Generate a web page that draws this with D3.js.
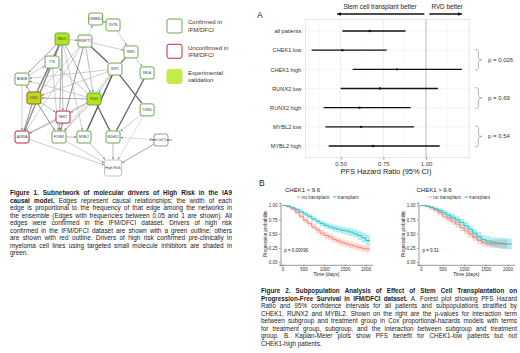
<!DOCTYPE html>
<html>
<head>
<meta charset="utf-8">
<script src="https://cdn.jsdelivr.net/npm/d3@7"></script>
<style>
  body { margin: 0; background: #fff; }
</style>
</head>
<body>
<div id="chart"></div>
<script>
// ---------- figure 1: network ----------
const nodeNames = ['CREB3L2', 'DSTN', 'MELK', 'PKMYT1', 'RNF1', 'TTK', 'E2F1', 'RELA', 'BUB1B', 'CDK1',
  'PLK4', 'NEK2', 'TONSL', 'AURKA', 'FOXM1', 'MYBL2', 'WDHD1', 'Stem Cell Trans.', 'High Risk'];
// layout units (0-10) from the graph layout
const nodeCol = [5.3, 6.55, 2.88, 4.53, 7.84, 2.16, 6.69, 9.0, 0, 0.86, 5.18, 2.95, 9.0, 0, 2.66, 4.46, 6.55, 10, 6.55];
const nodeRow = [0, 0.4, 1.34, 1.48, 2.21, 2.89, 3.36, 3.62, 4.03, 5.3, 5.37, 6.58, 6.1, 7.92, 7.92, 7.92, 7.92, 8.12, 10];
const nodeGroup = ['confirmed', 'confirmed', 'validated', 'confirmed', 'confirmed', 'confirmed', 'confirmed',
  'confirmed', 'confirmed', 'validatedOlive', 'validated', 'unconfirmed', 'confirmed', 'unconfirmed',
  'confirmed', 'confirmed', 'confirmed', 'other', 'outcome'];

// [from, to, edge frequency]
const edges = [
  ['MELK', 'CDK1', 0.9], ['MELK', 'AURKA', 0.8], ['MELK', 'PLK4', 0.5], ['MELK', 'TTK', 0.4],
  ['MELK', 'BUB1B', 0.5], ['MELK', 'NEK2', 0.4], ['MELK', 'FOXM1', 0.5], ['MELK', 'PKMYT1', 0.3],
  ['MELK', 'MYBL2', 0.3], ['PKMYT1', 'E2F1', 0.9], ['PKMYT1', 'PLK4', 0.4], ['PKMYT1', 'FOXM1', 0.6],
  ['PKMYT1', 'CDK1', 0.3], ['PKMYT1', 'RNF1', 0.3], ['PKMYT1', 'CREB3L2', 0.2], ['PKMYT1', 'AURKA', 0.3],
  ['CREB3L2', 'DSTN', 0.3], ['DSTN', 'RNF1', 0.3], ['RNF1', 'E2F1', 0.8], ['RNF1', 'RELA', 0.3],
  ['E2F1', 'MYBL2', 1.0], ['E2F1', 'TONSL', 0.9], ['E2F1', 'PLK4', 0.4], ['E2F1', 'CDK1', 0.3],
  ['E2F1', 'BUB1B', 0.3], ['E2F1', 'FOXM1', 0.3], ['RELA', 'WDHD1', 0.9], ['PLK4', 'WDHD1', 0.9],
  ['PLK4', 'CDK1', 0.5], ['PLK4', 'AURKA', 0.4], ['PLK4', 'NEK2', 0.3], ['PLK4', 'FOXM1', 0.4],
  ['PLK4', 'TTK', 0.3], ['PLK4', 'BUB1B', 0.3], ['CDK1', 'AURKA', 0.6], ['CDK1', 'FOXM1', 0.6],
  ['CDK1', 'NEK2', 0.4], ['CDK1', 'TTK', 0.3], ['CDK1', 'BUB1B', 0.5], ['BUB1B', 'AURKA', 0.3],
  ['BUB1B', 'TTK', 0.3], ['NEK2', 'AURKA', 0.4], ['NEK2', 'FOXM1', 0.4], ['TTK', 'FOXM1', 0.3],
  ['TTK', 'AURKA', 0.3], ['FOXM1', 'MYBL2', 0.4], ['FOXM1', 'High Risk', 0.3], ['AURKA', 'High Risk', 0.3],
  ['MYBL2', 'High Risk', 0.4], ['WDHD1', 'High Risk', 0.4], ['Stem Cell Trans.', 'High Risk', 0.5],
  ['TONSL', 'WDHD1', 0.3], ['Stem Cell Trans.', 'WDHD1', 0.2], ['TONSL', 'High Risk', 0.2],
];

const legendLabels = [['Confirmed in', 'IFM/DFCI'], ['Unconfirmed in', 'IFM/DFCI'], ['Experimental', 'validation']];
const legendGroups = ['confirmed', 'unconfirmed', 'validatedFlat'];

// ---------- figure 2A: forest plot ----------
const subgroups = ['all patients', 'CHEK1 low', 'CHEK1 high', 'RUNX2 low', 'RUNX2 high', 'MYBL2 low', 'MYBL2 high'];
const hrEstimate = [0.67, 0.51, 0.83, 0.73, 0.61, 0.62, 0.69];
const hrLower = [0.51, 0.33, 0.57, 0.50, 0.40, 0.41, 0.43];
const hrUpper = [0.88, 0.77, 1.21, 1.07, 0.91, 0.93, 1.08];
const hrTicks = [0.5, 0.75, 1.0];
const hrMinor = [0.375, 0.625, 0.875, 1.125];
const interactions = [
  ['CHEK1 low', 'CHEK1 high', 'p = 0.026'],
  ['RUNX2 low', 'RUNX2 high', 'p = 0.69'],
  ['MYBL2 low', 'MYBL2 high', 'p = 0.54'],
];

// ---------- figure 2B: Kaplan-Meier ----------
const kmTimes = [0, 100, 200, 300, 400, 500, 600, 700, 800, 900, 1000, 1100, 1200, 1300, 1400, 1500,
  1600, 1700, 1800, 1900, 2000, 2100];
const lowNoTx = [1.00, 0.98, 0.94, 0.88, 0.81, 0.74, 0.68, 0.62, 0.57, 0.51, 0.47, 0.44, 0.40, 0.37, 0.34, 0.32, 0.30, 0.28, 0.26, 0.24, 0.23, 0.23];
const lowNoTxLo = [1.00, 0.96, 0.91, 0.84, 0.77, 0.69, 0.63, 0.57, 0.51, 0.46, 0.41, 0.38, 0.34, 0.31, 0.28, 0.26, 0.24, 0.22, 0.20, 0.18, 0.17, 0.17];
const lowNoTxHi = [1.00, 1.00, 0.97, 0.92, 0.86, 0.79, 0.73, 0.68, 0.62, 0.57, 0.53, 0.50, 0.46, 0.43, 0.40, 0.38, 0.36, 0.34, 0.32, 0.30, 0.29, 0.29];
const lowTx = [1.00, 0.99, 0.96, 0.93, 0.89, 0.85, 0.81, 0.76, 0.72, 0.68, 0.65, 0.62, 0.60, 0.58, 0.56, 0.55, 0.53, 0.50, 0.47, 0.43, 0.38, 0.38];
const lowTxLo = [1.00, 0.98, 0.94, 0.90, 0.86, 0.81, 0.77, 0.72, 0.67, 0.63, 0.60, 0.57, 0.54, 0.52, 0.50, 0.48, 0.46, 0.43, 0.39, 0.34, 0.29, 0.29];
const lowTxHi = [1.00, 1.00, 0.98, 0.96, 0.93, 0.89, 0.85, 0.81, 0.77, 0.73, 0.70, 0.68, 0.66, 0.64, 0.62, 0.61, 0.60, 0.58, 0.55, 0.52, 0.48, 0.48];
const highNoTx = [1.00, 0.99, 0.96, 0.92, 0.87, 0.81, 0.77, 0.72, 0.67, 0.61, 0.55, 0.49, 0.43, 0.38, 0.34, 0.32, 0.32, 0.32, 0.32, 0.32, 0.32];
const highNoTxLo = [1.00, 0.97, 0.93, 0.88, 0.83, 0.76, 0.71, 0.66, 0.61, 0.55, 0.49, 0.43, 0.37, 0.32, 0.28, 0.26, 0.25, 0.25, 0.24, 0.24, 0.24];
const highNoTxHi = [1.00, 1.00, 0.99, 0.96, 0.92, 0.86, 0.82, 0.78, 0.73, 0.67, 0.61, 0.55, 0.49, 0.44, 0.40, 0.39, 0.39, 0.40, 0.40, 0.40, 0.40];
const highTx = [1.00, 0.99, 0.97, 0.94, 0.91, 0.87, 0.83, 0.79, 0.75, 0.70, 0.64, 0.58, 0.51, 0.45, 0.40, 0.37, 0.35, 0.34, 0.33, 0.32, 0.32, 0.32];
const highTxLo = [1.00, 0.98, 0.95, 0.91, 0.87, 0.83, 0.78, 0.74, 0.69, 0.64, 0.58, 0.51, 0.44, 0.38, 0.33, 0.29, 0.27, 0.25, 0.24, 0.23, 0.22, 0.22];
const highTxHi = [1.00, 1.00, 0.99, 0.97, 0.95, 0.92, 0.88, 0.85, 0.81, 0.76, 0.71, 0.65, 0.58, 0.53, 0.48, 0.46, 0.44, 0.43, 0.43, 0.42, 0.42, 0.42];
const kmYTicks = [0, 0.25, 0.5, 0.75, 1];
const kmXTicks = [0, 500, 1000, 1500, 2000];

// ---------- captions ----------
const caption1 = [
  [['Figure 1. Subnetwork of molecular drivers of High Risk in the IA9', true]],
  [['causal model.', true], ['Edges represent causal relationships; the width of each']],
  [['edge is proportional to the frequency of that edge among the networks in']],
  [['the ensemble (Edges with frequencies between 0.05 and 1 are shown). All']],
  [['edges were confirmed in the IFM/DFCI dataset. Drivers of high risk']],
  [['confirmed in the IFM/DFCI dataset are shown with a green outline; others']],
  [['are shown with red outline. Drivers of high risk confirmed pre-clinically in']],
  [['myeloma cell lines using targeted small molecule inhibitors are shaded in']],
  [['green.']],
];
const caption2 = [
  [['Figure 2. Subpopulation Analysis of Effect of Stem Cell Transplantation on', true]],
  [['Progression-Free Survival in IFM/DFCI dataset.', true], ['A. Forest plot showing PFS Hazard']],
  [['Ratio and 95% confidence intervals for all patients and subpopulations stratified by']],
  [['CHEK1, RUNX2 and MYBL2. Shown on the right are the p-values for interaction term']],
  [['between subgroup and treatment group in Cox proportional-hazards models with terms']],
  [['for treatment group, subgroup, and the interaction between subgroup and treatment']],
  [['group. B. Kaplan-Meier plots show PFS benefit for CHEK1-low patients but not']],
  [['CHEK1-high patients.']],
];

const RED = '#F8766D';
const TEAL = '#00BFC4';

const svg = d3.select('#chart').append('svg')
  .attr('width', 520).attr('height', 353)
  .style('font-family', "'Liberation Sans', Arial, sans-serif");

const defs = svg.append('defs');
const addMarker = (id, size, color) => defs.append('marker')
  .attr('id', id)
  .attr('viewBox', '0 0 10 10')
  .attr('refX', 9).attr('refY', 5)
  .attr('markerUnits', 'userSpaceOnUse')
  .attr('markerWidth', size).attr('markerHeight', size)
  .attr('orient', 'auto')
  .append('path').attr('d', 'M0,1L10,5L0,9Z').attr('fill', color);
addMarker('net-arrow', 2.6, '#8a8a8a');
addMarker('hr-arrow', 4.5, '#111');

// justified paragraph: words are measured and spread to fill the width,
// last line stays ragged
const drawParagraph = ({sel, lines, x, y, width, lineHeight, size}) => {
  lines.forEach((segments, i) => {
    const words = [];
    segments.forEach(([str, bold]) => str.split(' ').forEach((w) => words.push({w, bold})));
    const texts = words.map((d) => sel.append('text')
      .attr('y', y + i * lineHeight)
      .attr('font-size', size)
      .attr('font-weight', d.bold ? 'bold' : 'normal')
      .attr('fill', '#1a1a1a')
      .text(d.w));
    const widths = texts.map((t) => t.node().getComputedTextLength());
    const total = d3.sum(widths);
    const last = i === lines.length - 1;
    const gap = last || words.length < 2 ? size * 0.28 : Math.max(0.9, (width - total) / (words.length - 1));
    let cx = x;
    texts.forEach((t, j) => {
      t.attr('x', cx);
      cx += widths[j] + gap;
    });
  });
};

// ================= network =================
const nodeStyle = {
  confirmed: {fill: '#fff', stroke: '#6aa84f'},
  unconfirmed: {fill: '#fff', stroke: '#b8283f'},
  validated: {fill: '#b3e51f', stroke: '#6aa84f'},
  validatedFlat: {fill: '#c2ec4a', stroke: '#c2ec4a'},
  validatedOlive: {fill: '#c4d424', stroke: '#8a6d10'},
  other: {fill: '#fff', stroke: '#8fa08a'},
  outcome: {fill: '#fff', stroke: '#c4c4c4'},
};

const netX = d3.scaleLinear().domain([0, 10]).range([22, 161]);
const netY = d3.scaleLinear().domain([0, 10]).range([19, 168]);
const nodes = nodeNames.map((name, i) => ({name, col: nodeCol[i], row: nodeRow[i], group: nodeGroup[i]}));
const byName = new Map(nodes.map((d) => [d.name, d]));
const boxSize = (d) => (d.group === 'outcome' ? [17, 16] : [14, 12]);

const edgeWidth = d3.scaleLinear().domain([0, 1]).range([0.3, 1.4]);
const edgeColor = d3.scaleLinear().domain([0, 1]).range(['#dadada', '#555']);

// clip line end to the target box
const edgeEnd = (a, b) => {
  const x1 = netX(a.col), y1 = netY(a.row), x2 = netX(b.col), y2 = netY(b.row);
  const [w, h] = boxSize(b);
  const dx = x2 - x1, dy = y2 - y1;
  const t = Math.min(dx ? (w / 2 + 0.5) / Math.abs(dx) : Infinity, dy ? (h / 2 + 0.5) / Math.abs(dy) : Infinity);
  return [x2 - t * dx, y2 - t * dy];
};

const netG = svg.append('g').attr('class', 'network');
netG.selectAll('line.edge')
  .data(edges)
  .join('line')
  .attr('class', 'edge')
  .attr('x1', (e) => netX(byName.get(e[0]).col))
  .attr('y1', (e) => netY(byName.get(e[0]).row))
  .attr('x2', (e) => edgeEnd(byName.get(e[0]), byName.get(e[1]))[0])
  .attr('y2', (e) => edgeEnd(byName.get(e[0]), byName.get(e[1]))[1])
  .attr('stroke', (e) => edgeColor(e[2]))
  .attr('stroke-width', (e) => edgeWidth(e[2]))
  .attr('marker-end', 'url(#net-arrow)');

const nodeG = netG.selectAll('g.node')
  .data(nodes)
  .join('g')
  .attr('class', 'node')
  .attr('transform', (d) => `translate(${netX(d.col)},${netY(d.row)})`);

nodeG.append('rect')
  .attr('x', (d) => -boxSize(d)[0] / 2)
  .attr('y', (d) => -boxSize(d)[1] / 2)
  .attr('width', (d) => boxSize(d)[0])
  .attr('height', (d) => boxSize(d)[1])
  .attr('rx', 2)
  .attr('fill', (d) => nodeStyle[d.group].fill)
  .attr('stroke', (d) => nodeStyle[d.group].stroke)
  .attr('stroke-width', 1);

nodeG.append('text')
  .attr('text-anchor', 'middle')
  .attr('dy', '0.35em')
  .attr('font-size', (d) => (d.group === 'outcome' ? 3.6 : 3.1))
  .attr('fill', '#333')
  .text((d) => d.name);

// legend
const legendG = svg.append('g').attr('class', 'legend');
const legendY = d3.scalePoint().domain(legendGroups).range([26, 76.5]);
legendGroups.forEach((grp, i) => {
  const cy = legendY(grp);
  legendG.append('rect')
    .attr('x', 167).attr('y', cy - 7)
    .attr('width', 15).attr('height', 14).attr('rx', 2)
    .attr('fill', nodeStyle[grp].fill)
    .attr('stroke', nodeStyle[grp].stroke)
    .attr('stroke-width', 1);
  legendLabels[i].forEach((line, j) => {
    legendG.append('text')
      .attr('x', 188).attr('y', cy - 1.6 + j * 7.5)
      .attr('font-size', 6).attr('fill', '#333')
      .text(line);
  });
});

drawParagraph({sel: svg.append('g'), lines: caption1, x: 10, y: 195.3, width: 222, lineHeight: 7.5, size: 6.4});

// ================= forest plot =================
const fx = d3.scaleLinear().domain([0.295, 1.252]).range([305.7, 469]);
const fy = d3.scalePoint().domain(subgroups).range([19.5, 157.5]).padding(0.6);
const forest = svg.append('g').attr('class', 'forest');

forest.selectAll('line.minor').data(hrMinor).join('line')
  .attr('x1', fx).attr('x2', fx).attr('y1', 19.5).attr('y2', 157.5)
  .attr('stroke', '#f2f2f2').attr('stroke-width', 0.5);
forest.selectAll('line.major').data(hrTicks).join('line')
  .attr('x1', fx).attr('x2', fx).attr('y1', 19.5).attr('y2', 157.5)
  .attr('stroke', '#e8e8e8').attr('stroke-width', 0.7);
forest.selectAll('line.hgrid').data(subgroups).join('line')
  .attr('x1', 305.7).attr('x2', 469).attr('y1', fy).attr('y2', fy)
  .attr('stroke', '#ececec').attr('stroke-width', 0.6);
forest.append('rect')
  .attr('x', 305.7).attr('y', 19.5).attr('width', 469 - 305.7).attr('height', 138)
  .attr('fill', 'none').attr('stroke', '#dcdcdc').attr('stroke-width', 0.7);
forest.append('line')
  .attr('x1', fx(1)).attr('x2', fx(1)).attr('y1', 19.5).attr('y2', 157.5)
  .attr('stroke', '#a6a6a6').attr('stroke-width', 0.7);

forest.selectAll('line.ci').data(subgroups).join('line')
  .attr('x1', (d, i) => fx(hrLower[i]))
  .attr('x2', (d, i) => fx(hrUpper[i]))
  .attr('y1', fy).attr('y2', fy)
  .attr('stroke', '#111').attr('stroke-width', 1.3);
forest.selectAll('circle.est').data(subgroups).join('circle')
  .attr('cx', (d, i) => fx(hrEstimate[i]))
  .attr('cy', fy).attr('r', 1.2).attr('fill', '#111');

// axes
const xAxisF = forest.append('g')
  .attr('transform', 'translate(0,157.5)')
  .call(d3.axisBottom(fx).tickValues(hrTicks).tickFormat(d3.format('.2f')).tickSize(2).tickPadding(2));
xAxisF.select('.domain').remove();
xAxisF.selectAll('.tick line').attr('stroke', '#888');
xAxisF.selectAll('text').attr('font-size', 6).attr('fill', '#444').attr('font-family', null);

const yAxisF = forest.append('g')
  .attr('transform', 'translate(305.7,0)')
  .call(d3.axisLeft(fy).tickSize(0).tickPadding(4.5));
yAxisF.select('.domain').remove();
yAxisF.selectAll('text').attr('font-size', 5.6).attr('fill', '#333').attr('font-family', null);

forest.append('text')
  .attr('x', 386).attr('y', 174)
  .attr('text-anchor', 'middle').attr('font-size', 7.4).attr('fill', '#222')
  .text('PFS Hazard Ratio (95% CI)');

// header arrows
const headerArrows = [[0.99, 0.48, 'Stem cell transplant better', 380], [1.02, 1.21, 'RVD better', 447]];
headerArrows.forEach(([a, b, label, tx]) => {
  forest.append('line')
    .attr('x1', fx(a)).attr('x2', fx(b)).attr('y1', 14).attr('y2', 14)
    .attr('stroke', '#111').attr('stroke-width', 1.3)
    .attr('marker-end', 'url(#hr-arrow)');
  forest.append('text')
    .attr('x', tx).attr('y', 8.5)
    .attr('text-anchor', 'middle').attr('font-size', 6.3).attr('fill', '#222')
    .text(label);
});

// interaction braces
const bracePath = (x, y0, y1, w) => {
  const ym = (y0 + y1) / 2, xm = x + w * 0.5;
  return `M${x},${y0} Q${xm},${y0} ${xm},${y0 + 2.5} L${xm},${ym - 2} Q${xm},${ym} ${x + w},${ym}`
    + ` Q${xm},${ym} ${xm},${ym + 2} L${xm},${y1 - 2.5} Q${xm},${y1} ${x},${y1}`;
};
interactions.forEach(([a, b, label]) => {
  const y0 = fy(a) - 1, y1 = fy(b) + 1;
  forest.append('path')
    .attr('d', bracePath(475, y0, y1, 7))
    .attr('fill', 'none').attr('stroke', '#9a9a9a').attr('stroke-width', 0.7);
  forest.append('text')
    .attr('x', 488).attr('y', (y0 + y1) / 2 + 2)
    .attr('font-size', 6).attr('fill', '#333')
    .text(label);
});

svg.append('text').attr('x', 257).attr('y', 18.3).attr('font-size', 8.5).attr('fill', '#222').text('A');
svg.append('text').attr('x', 259).attr('y', 186).attr('font-size', 8.5).attr('fill', '#222').text('B');

// ================= Kaplan-Meier =================
const drawKM = ({range, titleX, title, pText, curves}) => {
  const x = d3.scaleLinear().domain([-50, 2150]).range(range);
  const y = d3.scaleLinear().domain([-0.05, 1.05]).range([264.8, 202.7]);
  const g = svg.append('g').attr('class', 'km');

  curves.forEach(({surv, lo, hi, color}) => {
    const pts = surv.map((s, i) => ({t: kmTimes[i], s, lo: lo[i], hi: hi[i]}));
    g.append('path')
      .datum(pts)
      .attr('d', d3.area().curve(d3.curveStepAfter).x((d) => x(d.t)).y0((d) => y(d.lo)).y1((d) => y(d.hi)))
      .attr('fill', color).attr('fill-opacity', 0.28);
  });
  curves.forEach(({surv, color}) => {
    const pts = surv.map((s, i) => ({t: kmTimes[i], s}));
    g.append('path')
      .datum(pts)
      .attr('d', d3.line().curve(d3.curveStepAfter).x((d) => x(d.t)).y((d) => y(d.s)))
      .attr('fill', 'none').attr('stroke', color).attr('stroke-width', 0.8);
  });

  const xAx = g.append('g').attr('transform', 'translate(0,264.8)')
    .call(d3.axisBottom(x).tickValues(kmXTicks).tickFormat(d3.format('d')).tickSize(1.5).tickPadding(1.5));
  const yAx = g.append('g').attr('transform', `translate(${range[0]},0)`)
    .call(d3.axisLeft(y).tickValues(kmYTicks).tickFormat(d3.format('.2f')).tickSize(1.5).tickPadding(1.5));
  [xAx, yAx].forEach((ax) => {
    ax.select('.domain').attr('stroke', '#333').attr('stroke-width', 0.5);
    ax.selectAll('.tick line').attr('stroke', '#333').attr('stroke-width', 0.5);
    ax.selectAll('text').attr('font-size', 4.5).attr('fill', '#333').attr('font-family', null);
  });

  const cx = (range[0] + range[1]) / 2;
  g.append('text').attr('x', cx).attr('y', 275.5)
    .attr('text-anchor', 'middle').attr('font-size', 5).attr('fill', '#222').text('Time (days)');
  g.append('text')
    .attr('transform', `translate(${range[0] - 14},${y(0.5)}) rotate(-90)`)
    .attr('text-anchor', 'middle').attr('font-size', 4.5).attr('fill', '#222')
    .text('Progression probability');
  g.append('text').attr('x', titleX).attr('y', 192.2)
    .attr('font-size', 6).attr('fill', '#222').text(title);
  g.append('text').attr('x', x(40)).attr('y', y(0.17))
    .attr('font-size', 4.5).attr('fill', '#222').text(pText);

  // legend
  const lg = g.append('g').attr('transform', `translate(${titleX + 12},198.5)`);
  const items = [['no transplant', RED, 0], ['transplant', TEAL, 36]];
  items.forEach(([label, color, dx]) => {
    lg.append('line').attr('x1', dx).attr('x2', dx + 3.5).attr('y1', -1.5).attr('y2', -1.5)
      .attr('stroke', color).attr('stroke-width', 0.9);
    lg.append('text').attr('x', dx + 4.5).attr('y', 0)
      .attr('font-size', 4.8).attr('fill', '#333').text(label);
  });
};

drawKM({
  range: [280.5, 372], titleX: 285, title: 'CHEK1 < 9.6', pText: 'p = 0.00096',
  curves: [
    {surv: lowNoTx, lo: lowNoTxLo, hi: lowNoTxHi, color: RED},
    {surv: lowTx, lo: lowTxLo, hi: lowTxHi, color: TEAL},
  ],
});
drawKM({
  range: [418.5, 514], titleX: 416.5, title: 'CHEK1 > 9.6', pText: 'p = 0.31',
  curves: [
    {surv: highNoTx, lo: highNoTxLo, hi: highNoTxHi, color: RED},
    {surv: highTx, lo: highTxLo, hi: highTxHi, color: TEAL},
  ],
});

drawParagraph({sel: svg.append('g'), lines: caption2, x: 261, y: 293, width: 256, lineHeight: 7.5, size: 6.3});
</script>
</body>
</html>
